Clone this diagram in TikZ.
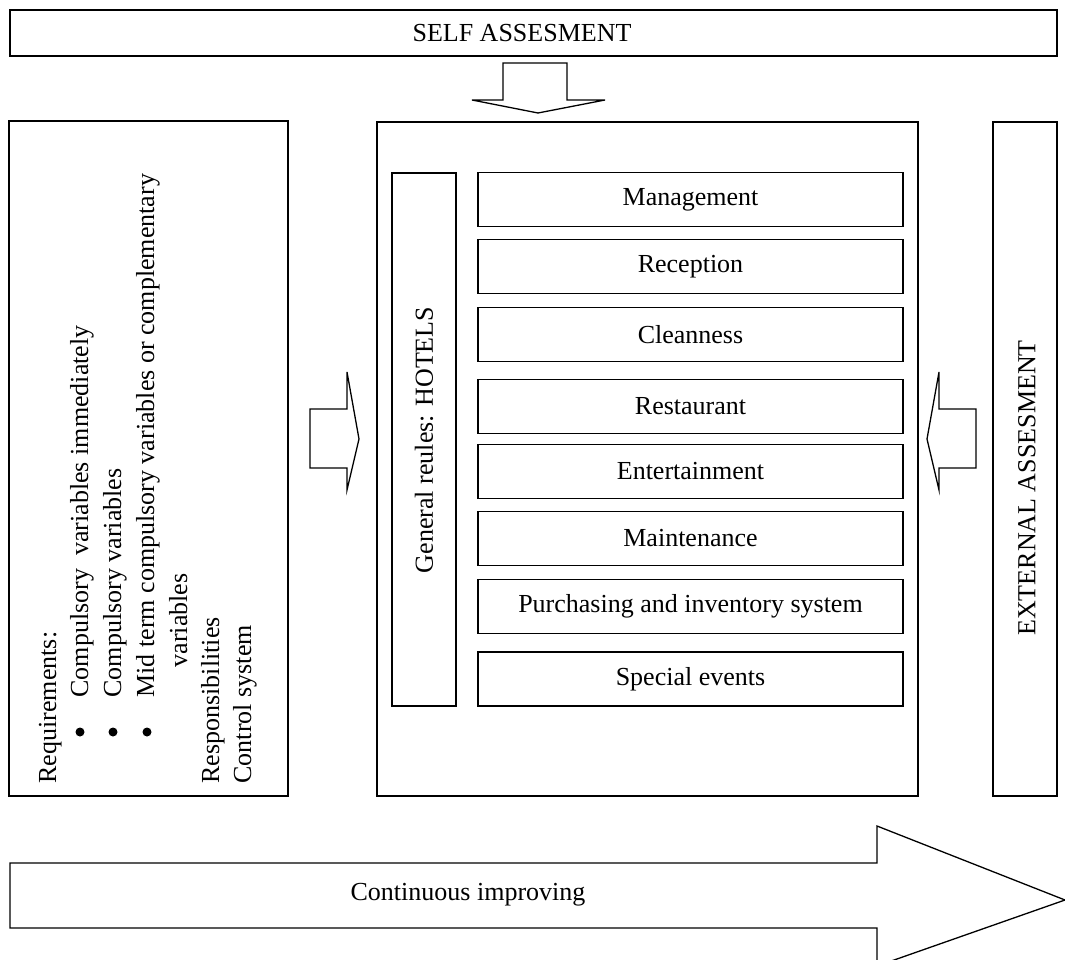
\documentclass[tikz,border=0pt]{standalone}
\usepackage{fontspec}
\setmainfont{Liberation Serif}
\begin{document}
\begin{tikzpicture}[x=1pt,y=-1pt,line width=1.3pt,
  every node/.style={font=\fontsize{26}{32}\selectfont},
  box/.style={draw, rectangle, inner sep=0pt},
  item/.style={box, minimum width=425pt, minimum height=54pt},
  vtext/.style={rotate=90, anchor=base west, inner sep=0pt},
  dot/.style={circle, fill=black, inner sep=0pt, minimum size=9pt},
  blockarrow/.style={draw, line join=miter}]
\useasboundingbox (0,0) rectangle (1065,960);
\clip (0,0) rectangle (1065,960);

% top
\node[box, minimum width=1047pt, minimum height=46pt] (self) at (533.5,33) {};
\node (selftext) at (522,33) {SELF ASSESMENT};
\draw[blockarrow] (503,63) -- (567,63) -- (567,100) -- (605,100) -- (538,113) -- (472,100) -- (503,100) -- cycle;

% left box
\node[box, minimum width=279pt, minimum height=675pt] (req) at (148.5,458.5) {};
\node[vtext] (r1) at (56,784) {Requirements:};
\node[dot] (b1) at (80,732) {};
\node[vtext] (r2) at (88,698) {Compulsory\ \ variables immediately};
\node[dot] (b2) at (113,732) {};
\node[vtext] (r3) at (121,698) {Compulsory variables};
\node[dot] (b3) at (147,732) {};
\node[vtext] (r4) at (154,698) {Mid term compulsory variables or complementary};
\node[vtext] (r5) at (187,668) {variables};
\node[vtext] (r6) at (219,784) {Responsibilities};
\node[vtext] (r7) at (251,784) {Control system};

% arrows to the centre
\draw[blockarrow] (310,409) -- (347,409) -- (347,372) -- (359,439) -- (347,490) -- (347,468) -- (310,468) -- cycle;
\draw[blockarrow] (976,409) -- (939,409) -- (939,372) -- (927,439) -- (939,490) -- (939,468) -- (976,468) -- cycle;

% centre box
\node[box, minimum width=541pt, minimum height=674pt] (hotel) at (647.5,459) {};
\node[box, minimum width=64pt, minimum height=533pt] (gen) at (424,439.5) {};
\node[rotate=90] (gentext) at (424,440) {General reules: HOTELS};
\node[item] (i1) at (690.5,199.5) {Management};
\node[item] (i2) at (690.5,266.5) {Reception};
\node[item] (i3) at (690.5,334.5) {Cleanness};
\node[item] (i4) at (690.5,406.5) {Restaurant};
\node[item] (i5) at (690.5,471.5) {Entertainment};
\node[item] (i6) at (690.5,538.5) {Maintenance};
\node[item] (i7) at (690.5,606.5) {Purchasing and inventory system};
\node[item] (i8) at (690.5,679) {Special events};

% right box
\node[box, minimum width=64pt, minimum height=674pt] (ext) at (1025,459) {};
\node[rotate=90] (exttext) at (1027,488) {EXTERNAL ASSESMENT};

% bottom arrow
\draw[blockarrow] (10,863) -- (877,863) -- (877,826) -- (1065,900) -- (877,966) -- (877,928) -- (10,928) -- cycle;
\node (cont) at (468,895) {Continuous improving};
\end{tikzpicture}
\end{document}
